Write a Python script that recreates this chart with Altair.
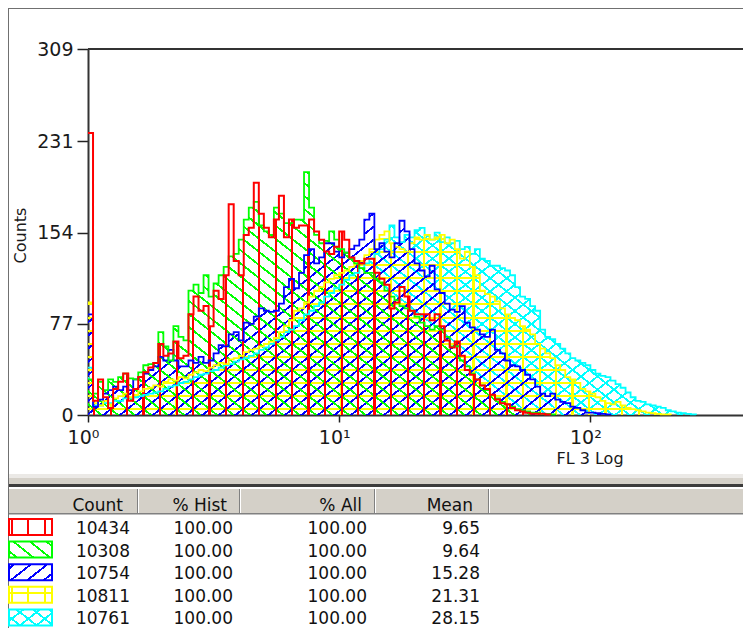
import math
import pandas as pd
import altair as alt

# ---------------- values ----------------
BIN_DECADES = 0.02  # width of one histogram channel (decades of FL 3)

RED = [238, 12, 30, 15, 6, 22, 28, 35, 12, 22,
       32, 36, 40, 44, 60, 50, 52, 62, 48, 50,
       85, 100, 88, 92, 75, 105, 98, 118, 178, 130,
       118, 152, 158, 196, 170, 158, 150, 165, 185, 150,
       165, 158, 160, 160, 165, 155, 148, 138, 136, 142,
       155, 148, 133, 130, 128, 132, 132, 120, 115, 110,
       90, 95, 108, 100, 88, 85, 85, 85, 80, 85,
       75, 63, 57, 62, 50, 38, 34, 30, 25, 22,
       17, 13, 10, 9, 6, 4, 3, 2, 1, 1,
       1, 0.5]
GREEN = [30, 18, 28, 21, 30, 28, 32, 35, 31, 30,
         36, 42, 43, 44, 70, 58, 46, 75, 66, 63,
         105, 110, 103, 118, 100, 111, 118, 125, 134, 136,
         148, 165, 175, 180, 160, 155, 152, 175, 170, 162,
         162, 165, 165, 205, 175, 152, 145, 147, 155, 148,
         140, 137, 132, 128, 124, 120, 120, 115, 112, 105,
         100, 97, 92, 90, 88, 83, 78, 75, 72, 75,
         72, 66, 58, 58, 46, 41, 35, 30, 25, 21,
         17, 14, 11, 9, 7, 5, 4, 3, 2, 2,
         1, 1, 0.5]
BLUE = [85, 7, 13, 18, 21, 24, 21, 24, 21, 30,
        32, 35, 38, 41, 49, 46, 55, 46, 41, 41,
        46, 44, 49, 44, 46, 52, 59, 58, 68, 70,
        63, 78, 77, 83, 90, 88, 87, 88, 94, 108,
        115, 107, 120, 135, 140, 128, 133, 145, 145, 138,
        133, 137, 140, 143, 148, 165, 170, 140, 145, 138,
        133, 145, 164, 155, 140, 128, 122, 117, 126, 106,
        103, 94, 89, 87, 92, 78, 74, 72, 68, 66,
        72, 55, 52, 46, 42, 41, 38, 34, 30, 24,
        18, 16, 18, 13, 11, 10, 7, 6, 4, 2,
        2, 1.5, 1, 0.5]
YELLOW = [95, 10, 8, 12, 9, 14, 16, 18, 15, 17,
          20, 22, 23, 25, 24, 28, 30, 29, 32, 31,
          34, 36, 38, 37, 40, 42, 44, 43, 47, 48,
          50, 53, 55, 56, 58, 60, 62, 65, 70, 75,
          80, 88, 90, 95, 100, 105, 108, 112, 115, 118,
          120, 122, 125, 128, 130, 135, 140, 148, 152, 155,
          145, 142, 140, 138, 145, 150, 148, 152, 148, 150,
          152, 145, 148, 140, 132, 138, 125, 118, 105, 102,
          100, 96, 90, 85, 82, 80, 75, 72, 68, 60,
          56, 52, 48, 42, 38, 32, 30, 27, 22, 20,
          18, 15, 12, 10, 9, 11, 8, 6, 5, 4,
          3, 2, 1.5, 1, 0.5, 0.5]
CYAN = [40, 8, 8, 10, 10, 12, 12, 14, 14, 15,
        16, 17, 18, 19, 20, 22, 24, 25, 27, 28,
        30, 32, 34, 35, 37, 38, 40, 42, 43, 45,
        47, 48, 50, 52, 55, 57, 60, 63, 66, 70,
        72, 75, 80, 85, 88, 92, 95, 100, 103, 107,
        110, 114, 118, 120, 124, 128, 132, 136, 140, 148,
        160, 150, 146, 152, 150, 156, 158, 152, 148, 154,
        146, 150, 145, 147, 140, 142, 136, 140, 132, 130,
        126, 126, 124, 122, 118, 108, 100, 98, 92, 88,
        72, 66, 64, 60, 56, 52, 48, 46, 44, 42,
        38, 35, 33, 32, 29, 26, 23, 19, 15, 12,
        11, 9, 8, 7, 6, 4, 3, 2, 1.5, 1,
        0.5]

SERIES = ["red", "green", "blue", "yellow", "cyan"]
SERIES_VALUES = {"red": RED, "green": GREEN, "blue": BLUE, "yellow": YELLOW, "cyan": CYAN}

TABLE_COUNT = [10434, 10308, 10754, 10811, 10761]
TABLE_PCT_HIST = [100.00, 100.00, 100.00, 100.00, 100.00]
TABLE_PCT_ALL = [100.00, 100.00, 100.00, 100.00, 100.00]
TABLE_MEAN = [9.65, 9.64, 15.28, 21.31, 28.15]
HEADERS = ["Count", "% Hist", "% All", "Mean"]

Y_TICKS = [0, 77, 154, 231, 309]
X_TICKS = [1, 10, 100]
X_TICK_LABELS = ["10\u2070", "10\u00b9", "10\u00b2"]

# ---------------- layout and style ----------------
FONT = "DejaVu Sans"
PLOT_W, PLOT_H = 655, 366
DECADE_PX = 251.2
X_MAX = 10 ** (PLOT_W / DECADE_PX)
Y_MAX = 309
COLORS = {"red": "#ff0000", "green": "#00ff00", "blue": "#0000ff",
          "yellow": "#ffff00", "cyan": "#00ffff"}
HATCH = {"red": ["v"], "green": ["f"], "blue": ["b"], "yellow": ["v", "h"], "cyan": ["b", "f"]}

PX, PY = 16.5, 13.1       # hatch period (px)
U0, V0 = 6.2, 6.5         # hatch phase inside the plot (px)
FAMILIES = {
    "v": (1 / PX, 0.0, U0 / PX, 2.4),
    "h": (0.0, 1 / PY, V0 / PY, 2.0),
    "b": (1 / PX, 1 / PY, U0 / PX + V0 / PY, 1.9),
    "f": (1 / PX, -1 / PY, U0 / PX - V0 / PY, 1.9),
}


def transparent(hexc):
    r, g, b = int(hexc[1:3], 16), int(hexc[3:5], 16), int(hexc[5:7], 16)
    return f"rgba({r},{g},{b},0)"


def hatch_gradient(color, fam, bbox):
    alpha, beta, phase, lw = FAMILIES[fam]
    x0, y0, w, h = bbox
    g = (alpha * w, beta * h)
    base = alpha * x0 + beta * y0
    corners = [(0.0, 0.0), (1.0, 0.0), (0.0, 1.0), (1.0, 1.0)]
    fv = [base + g[0] * s + g[1] * r for s, r in corners]
    fmin, fmax = min(fv), max(fv)
    span = fmax - fmin
    p1 = corners[fv.index(fmin)]
    gg = g[0] ** 2 + g[1] ** 2
    x2 = p1[0] + span / gg * g[0]
    y2 = p1[1] + span / gg * g[1]
    half = lw * math.hypot(alpha, beta) / 2
    clear = transparent(color)
    stops = [(0.0, clear)]
    for k in range(math.floor(fmin - phase) - 1, math.ceil(fmax - phase) + 2):
        c = phase + k
        a = (c - half - fmin) / span
        b = (c + half - fmin) / span
        if b <= 0 or a >= 1:
            continue
        a = max(a, 0.0)
        b = min(b, 1.0)
        stops += [(a, clear), (a, color), (b, color), (b, clear)]
    stops.append((1.0, clear))
    return alt.Gradient(
        gradient="linear",
        x1=round(p1[0], 6), y1=round(p1[1], 6), x2=round(x2, 6), y2=round(y2, 6),
        stops=[alt.GradientStop(offset=round(o, 6), color=col) for o, col in stops],
    )


def series_df(name):
    vals = SERIES_VALUES[name]
    n = len(vals)
    return pd.DataFrame({
        "x": [10 ** (BIN_DECADES * i) for i in range(n + 1)],
        "c": list(vals) + [0],
    })


X_ENC = alt.X(
    "x:Q",
    scale=alt.Scale(type="log", domain=[1, X_MAX], nice=False),
    title="FL 3 Log",
    axis=alt.Axis(
        values=X_TICKS,
        labelExpr="datum.value == 1 ? '" + X_TICK_LABELS[0] + "' : datum.value == 10 ? '"
                  + X_TICK_LABELS[1] + "' : '" + X_TICK_LABELS[2] + "'",
        grid=False, tickSize=7, tickWidth=1.5, tickColor="#222222",
        domainColor="#333333", domainWidth=2,
        labelFont=FONT, labelFontSize=19, labelColor="#1a1a1a",
        labelPadding=6, labelOffset=-5, labelFlush=False, labelOverlap=False,
        titleFont=FONT, titleFontSize=16, titleFontWeight="normal", titleColor="#1a1a1a",
        titleX=501.5, titleY=48.5, titleAlign="center", titleBaseline="alphabetic",
    ),
)
Y_ENC = alt.Y(
    "c:Q",
    stack=None,
    scale=alt.Scale(domain=[0, Y_MAX], nice=False, zero=True),
    title="Counts",
    axis=alt.Axis(
        values=Y_TICKS, grid=False, tickSize=11, tickWidth=1.5, tickColor="#222222",
        domainColor="#333333", domainWidth=2,
        labelFont=FONT, labelFontSize=19, labelColor="#1a1a1a",
        labelPadding=4, labelFlush=False, labelOverlap=False,
        titleFont=FONT, titleFontSize=16, titleFontWeight="normal", titleColor="#1a1a1a",
        titleX=-68, titleY=186, titleAngle=270, titleAlign="center", titleBaseline="middle",
    ),
)

draw_order = ["cyan", "yellow", "blue", "green", "red"]
areas = []
for name in draw_order:
    vals = SERIES_VALUES[name]
    w = DECADE_PX * BIN_DECADES * len(vals)
    top = PLOT_H * (1 - max(vals) / Y_MAX)
    bbox = (0.0, top, w, PLOT_H - top)
    for fam in HATCH[name]:
        areas.append(
            alt.Chart(series_df(name)).mark_area(
                interpolate="step-after", fill=hatch_gradient(COLORS[name], fam, bbox), opacity=1
            ).encode(x=X_ENC, y=Y_ENC)
        )
lines = [
    alt.Chart(series_df(name)).mark_line(
        interpolate="step-after", color=COLORS[name], strokeWidth=2 if name == "red" else 1.8
    ).encode(x=X_ENC, y=Y_ENC)
    for name in draw_order
]
hist = alt.layer(*areas, *lines)

# ---------------- frame, table ----------------
ONE = pd.DataFrame({"k": [0]})


def rect(x, x2, y, y2, color):
    return alt.Chart(ONE).mark_rect(color=color, opacity=1).encode(
        x=alt.value(x), x2=alt.value(x2), y=alt.value(y), y2=alt.value(y2))


def hrule(x, x2, y, color, width):
    return alt.Chart(ONE).mark_rule(color=color, strokeWidth=width).encode(
        x=alt.value(x), x2=alt.value(x2), y=alt.value(y))


def vrule(x, y, y2, color, width):
    return alt.Chart(ONE).mark_rule(color=color, strokeWidth=width).encode(
        x=alt.value(x), y=alt.value(y), y2=alt.value(y2))


decor = [
    hrule(0, PLOT_W, 0, "#333333", 2),            # plot top border
    hrule(-80, PLOT_W, -40.5, "#707070", 1),      # window frame top
    rect(-80, PLOT_W, 425, 429, "#ebe9e6"),
    rect(-80, PLOT_W, 429, 435, "#d4d0c8"),
    rect(-80, PLOT_W, 435, 438, "#3c3c3c"),
    rect(-80, PLOT_W, 439, 464, "#d4d0c8"),
    rect(-80, PLOT_W, 439, 440, "#ffffff"),
    rect(-80, PLOT_W, 464, 465.5, "#808080"),
]
for sx in [49, 151, 286, 400]:
    decor.append(rect(sx, sx + 1, 440, 464, "#808080"))
    decor.append(rect(sx + 1, sx + 2, 440, 464, "#ffffff"))
decor.append(vrule(-79.5, -41, 580, "#707070", 1))  # window frame left

TABLE_DF = pd.DataFrame({
    "row": list(range(len(SERIES))),
    "count": TABLE_COUNT, "hist": TABLE_PCT_HIST, "all": TABLE_PCT_ALL, "mean": TABLE_MEAN,
})
ROW0, ROW_STEP = 485, 22.6
ROW_SCALE = alt.Scale(domain=[0, 4], range=[ROW0, ROW0 + 4 * ROW_STEP], zero=False, nice=False)
SW_X0, SW_X1 = -79, -36

swatches = []
for i, name in enumerate(SERIES):
    base = alt.Chart(TABLE_DF).transform_filter(alt.datum.row == i).transform_calculate(
        top=f"datum.row - {15 / ROW_STEP}", bot=f"datum.row + {1 / ROW_STEP}")
    enc = dict(x=alt.value(SW_X0), x2=alt.value(SW_X1),
               y=alt.Y("top:Q", scale=ROW_SCALE, axis=None), y2=alt.Y2("bot:Q"))
    bbox = (SW_X0, ROW0 + ROW_STEP * i - 15, SW_X1 - SW_X0, 16)
    for fam in HATCH[name]:
        swatches.append(base.mark_rect(fill=hatch_gradient(COLORS[name], fam, bbox), opacity=1).encode(**enc))
    swatches.append(base.mark_rect(fill="transparent", stroke=COLORS[name], strokeWidth=2).encode(**enc))

texts = []
COLS = [("count", 42, "d"), ("hist", 145, ".2f"), ("all", 279, ".2f"), ("mean", 392, ".2f")]
HEAD_X = [35, 139, 274, 385]
for (field, xr, fmt), hx, head in zip(COLS, HEAD_X, HEADERS):
    texts.append(alt.Chart(TABLE_DF).mark_text(
        align="right", baseline="alphabetic", font=FONT, fontSize=17, color="#111111"
    ).encode(x=alt.value(xr), y=alt.Y("row:Q", scale=ROW_SCALE, axis=None),
             text=alt.Text(f"{field}:Q", format=fmt)))
    texts.append(alt.Chart(ONE).mark_text(
        align="right", baseline="alphabetic", font=FONT, fontSize=17, color="#111111"
    ).encode(x=alt.value(hx), y=alt.value(461.5), text=alt.value(head)))

table = alt.layer(*decor, *swatches, *texts)

chart = alt.layer(hist, table).resolve_scale(y="independent").properties(
    width=PLOT_W, height=PLOT_H,
    padding={"left": 80, "top": 41, "right": 0, "bottom": 213},
    autosize=alt.AutoSizeParams(type="none"),
    background="white",
).configure_view(stroke=None)

chart.save("out.html", embed_options={"renderer": "svg", "actions": False})
